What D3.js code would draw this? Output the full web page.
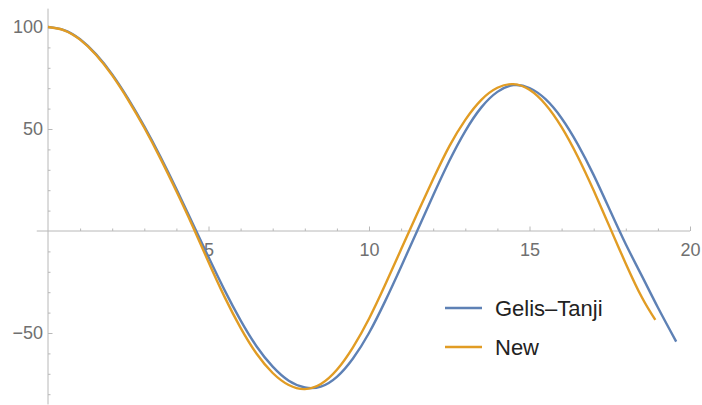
<!DOCTYPE html>
<html>
<head>
<meta charset="utf-8">
<script src="https://cdn.jsdelivr.net/npm/d3@7"></script>
<style>
  html, body { margin: 0; padding: 0; background: #fff; }
  svg { display: block; }
</style>
</head>
<body>
<svg id="chart" width="702" height="405"></svg>
<script>
// ---- data ----
const seriesNames = ["Gelis\u2013Tanji", "New"];
const gelisX = [0, 0.5, 1, 1.5, 2, 2.5, 3, 3.5, 4, 4.5, 5, 5.5, 6, 6.5, 7, 7.5, 8, 8.5, 9, 9.5, 10, 10.5, 11, 11.5, 12, 12.5, 13, 13.5, 14, 14.5, 15, 15.5, 16, 16.5, 17, 17.5, 18, 18.5, 19, 19.57];
const gelisY = [100, 98.5, 94, 86.6, 76.8, 64.8, 51.3, 36.5, 20.6, 3.9, -12.8, -29, -43.8, -56.6, -66.5, -73.4, -76.7, -76.3, -71.5, -62.5, -50, -34.5, -17.5, 0, 17.5, 34.3, 49, 60.6, 68.2, 71.5, 70.1, 64.6, 55.3, 42.6, 27.4, 10.4, -6.5, -22, -37.5, -54.2];
const newX = [0, 0.5, 1, 1.5, 2, 2.5, 3, 3.5, 4, 4.5, 5, 5.5, 6, 6.5, 7, 7.5, 8, 8.5, 9, 9.5, 10, 10.5, 11, 11.5, 12, 12.5, 13, 13.5, 14, 14.5, 15, 15.5, 16, 16.5, 17, 17.5, 18, 18.5, 18.92];
const newY = [100, 98.4, 93.8, 86.3, 76.3, 64.2, 50.6, 35.6, 19.5, 2.6, -15.2, -32.3, -47.5, -60.2, -69.6, -75.5, -77.5, -75, -68, -57, -43, -26.5, -9, 8.5, 25.5, 41.5, 54.5, 64.3, 70.2, 72, 69.2, 62, 50.9, 36.5, 19.8, 1.9, -16, -32.5, -43.6];
const xMajorTicks = [5, 10, 15, 20];
const xMinorTicks = [1, 2, 3, 4, 6, 7, 8, 9, 11, 12, 13, 14, 16, 17, 18, 19];
const yMajorTicks = [-50, 50, 100];
const yMinorTicks = [-80, -70, -60, -40, -30, -20, -10, 10, 20, 30, 40, 60, 70, 80, 90];
const xAxisExtent = [-0.35, 20];
const yAxisExtent = [-85, 109];

const colors = ["#5E81B5", "#E19C24"];

const svg = d3.select("#chart");
const x = d3.scaleLinear().domain([0, 20]).range([48, 690]);
const y = d3.scaleLinear().domain([0, 100]).range([231, 27]);

const axisColor = "#b8b8b8";
const labelColor = "#707070";
const font = "'Liberation Sans', Arial, sans-serif";

// axis lines
svg.append("line")
  .attr("x1", x(xAxisExtent[0])).attr("x2", x(xAxisExtent[1]))
  .attr("y1", y(0)).attr("y2", y(0))
  .attr("stroke", axisColor).attr("stroke-width", 1);
svg.append("line")
  .attr("x1", x(0)).attr("x2", x(0))
  .attr("y1", y(yAxisExtent[1])).attr("y2", y(yAxisExtent[0]))
  .attr("stroke", axisColor).attr("stroke-width", 1);

function styleAxis(g) {
  g.select(".domain").remove();
  g.selectAll("line").attr("stroke", axisColor);
  g.selectAll("text").attr("fill", labelColor)
    .style("font-family", font).style("font-size", "18px");
}

// x axis minor + major
svg.append("g").attr("transform", `translate(0,${y(0)})`)
  .call(d3.axisBottom(x).tickValues(xMinorTicks).tickSizeInner(-2.5).tickSizeOuter(0).tickFormat(""))
  .call(styleAxis);
svg.append("g").attr("transform", `translate(0,${y(0)})`)
  .call(d3.axisBottom(x).tickValues(xMajorTicks).tickSizeInner(-4.5).tickSizeOuter(0).tickPadding(12).tickFormat(d3.format("d")))
  .call(styleAxis);

// y axis minor + major
svg.append("g").attr("transform", `translate(${x(0)},0)`)
  .call(d3.axisLeft(y).tickValues(yMinorTicks).tickSizeInner(-2.5).tickSizeOuter(0).tickFormat(""))
  .call(styleAxis);
svg.append("g").attr("transform", `translate(${x(0)},0)`)
  .call(d3.axisLeft(y).tickValues(yMajorTicks).tickSizeInner(-4.5).tickSizeOuter(0).tickPadding(5)
        .tickFormat(d => d < 0 ? "\u2212" + Math.abs(d) : String(d)))
  .call(styleAxis);

// curves
const line = d3.line().x(d => x(d[0])).y(d => y(d[1])).curve(d3.curveNatural);
const series = [d3.zip(gelisX, gelisY), d3.zip(newX, newY)];
series.forEach((s, i) => {
  svg.append("path").datum(s)
    .attr("d", line)
    .attr("fill", "none")
    .attr("stroke", colors[i])
    .attr("stroke-width", 2.4)
    .attr("stroke-linejoin", "round")
    .attr("stroke-linecap", "butt");
});

// legend
const legend = svg.append("g").attr("transform", "translate(445,308)");
seriesNames.forEach((name, i) => {
  const row = legend.append("g").attr("transform", `translate(0,${i * 39})`);
  row.append("line").attr("x1", 0).attr("x2", 37).attr("y1", 0).attr("y2", 0)
    .attr("stroke", colors[i]).attr("stroke-width", 2.5);
  row.append("text").attr("x", 50).attr("y", 0).attr("dy", "0.36em")
    .attr("fill", "#222")
    .style("font-family", font).style("font-size", "22px")
    .text(name);
});
</script>
</body>
</html>
